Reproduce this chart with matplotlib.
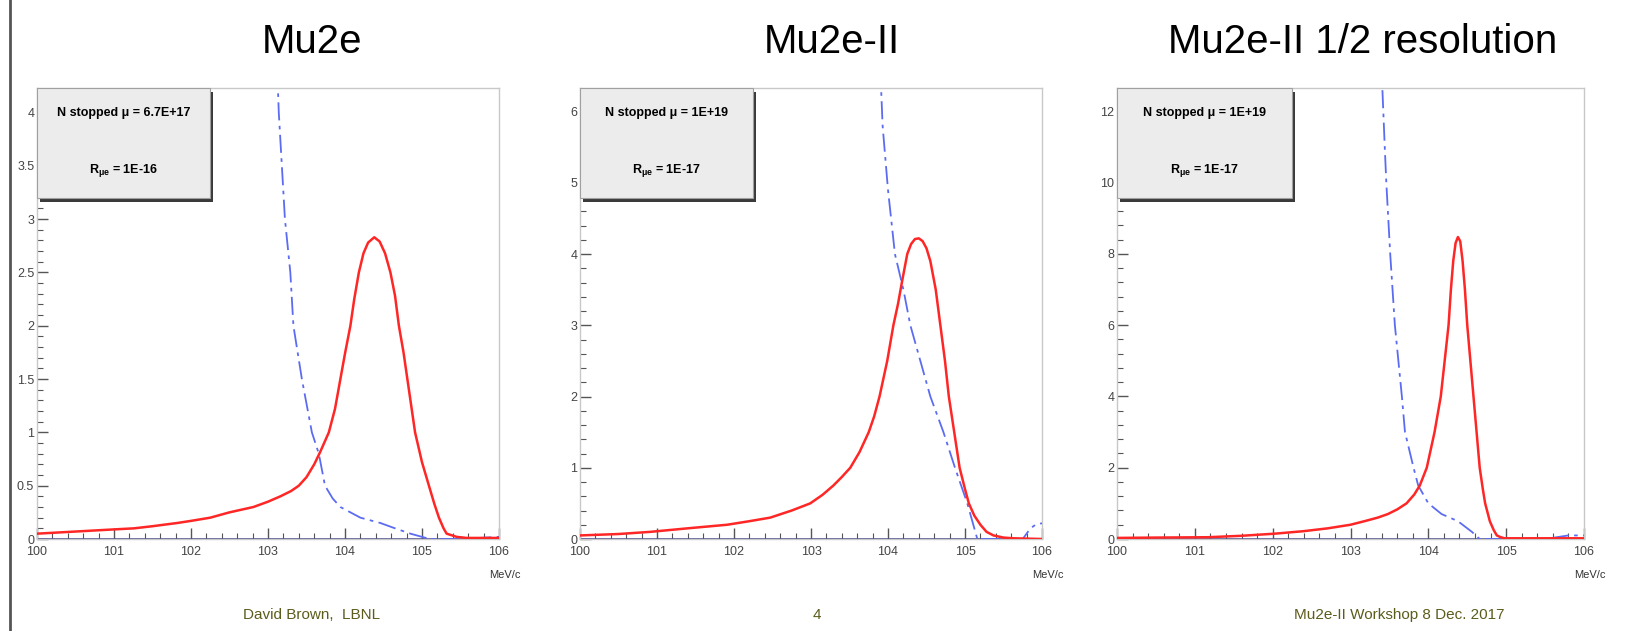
import numpy as np
import matplotlib.pyplot as plt
from matplotlib.patches import Rectangle
from matplotlib.ticker import MultipleLocator, FuncFormatter

plt.rcParams['font.family'] = ['Liberation Sans', 'DejaVu Sans']

# panel titles and legend texts
titles = ["Mu2e", "Mu2e-II", "Mu2e-II 1/2 resolution"]
nstop_txt = ["N stopped μ = 6.7E+17", "N stopped μ = 1E+19", "N stopped μ = 1E+19"]
rmue_txt = ["R$_{\\mathregular{μe}}$ = 1E-16", "R$_{\\mathregular{μe}}$ = 1E-17",
            "R$_{\\mathregular{μe}}$ = 1E-17"]
ymax = [4.23, 6.33, 12.65]
ymajor = [0.5, 1, 2]

# signal (red) curves
sig1_x = [100, 100.5, 101.0, 101.26, 101.5, 101.82, 102.0, 102.25, 102.5, 102.81, 103.0, 103.16, 103.3,
          103.40, 103.5, 103.6, 103.68, 103.79, 103.87, 103.94, 104.0, 104.07, 104.12, 104.18, 104.24,
          104.30, 104.38, 104.45, 104.52, 104.59, 104.65, 104.70, 104.76, 104.81, 104.86, 104.91, 105.0,
          105.09, 105.16, 105.22, 105.28, 105.32, 105.45, 105.58, 106]
sig1_y = [0.05, 0.07, 0.09, 0.1, 0.12, 0.15, 0.17, 0.2, 0.25, 0.3, 0.35, 0.4, 0.45,
          0.5, 0.58, 0.7, 0.82, 1.0, 1.22, 1.5, 1.74, 2.0, 2.25, 2.5, 2.68,
          2.78, 2.83, 2.79, 2.68, 2.5, 2.28, 2.0, 1.75, 1.5, 1.25, 1.0, 0.72,
          0.5, 0.33, 0.2, 0.1, 0.05, 0.02, 0.01, 0.01]

sig2_x = [100, 100.5, 100.91, 101.4, 101.91, 102.2, 102.47, 102.75, 102.99, 103.15, 103.29, 103.4, 103.51,
          103.63, 103.75, 103.82, 103.89, 103.99, 104.07, 104.13, 104.18, 104.25, 104.30, 104.35, 104.40,
          104.45, 104.50, 104.55, 104.62, 104.68, 104.74, 104.79, 104.86, 104.93, 105.0, 105.05, 105.12,
          105.2, 105.28, 105.37, 105.5, 105.63, 106]
sig2_y = [0.05, 0.07, 0.1, 0.15, 0.2, 0.25, 0.3, 0.4, 0.5, 0.62, 0.75, 0.87, 1.0,
          1.22, 1.5, 1.72, 2.0, 2.5, 3.0, 3.3, 3.6, 4.0, 4.14, 4.21, 4.22,
          4.18, 4.08, 3.9, 3.5, 3.0, 2.5, 2.0, 1.5, 1.0, 0.7, 0.5, 0.33,
          0.2, 0.1, 0.05, 0.02, 0.01, 0.0]

sig3_x = [100, 100.5, 101.17, 101.6, 102.03, 102.4, 102.71, 103.0, 103.18, 103.35, 103.48, 103.6, 103.72,
          103.82, 103.89, 103.98, 104.03, 104.08, 104.16, 104.21, 104.26, 104.29, 104.32, 104.35, 104.38,
          104.41, 104.44, 104.47, 104.50, 104.54, 104.58, 104.62, 104.66, 104.70, 104.73, 104.79, 104.84,
          104.88, 104.93, 104.98, 105.5, 106]
sig3_y = [0.03, 0.04, 0.05, 0.09, 0.15, 0.22, 0.3, 0.4, 0.5, 0.6, 0.7, 0.83, 1.0,
          1.25, 1.5, 2.0, 2.5, 3.0, 4.0, 5.0, 6.0, 7.0, 7.8, 8.3, 8.47,
          8.35, 7.8, 7.0, 6.0, 5.0, 4.0, 3.0, 2.0, 1.4, 1.0, 0.5, 0.25,
          0.1, 0.05, 0.02, 0.02, 0.02]

# DIO background (blue) curves
dio1_x = [103.12, 103.14, 103.22, 103.29, 103.33, 103.44, 103.57, 103.66, 103.74, 103.84, 103.94,
          104.2, 104.46, 104.65, 104.85, 105.1, 105.5, 106]
dio1_y = [4.4, 4.0, 3.0, 2.5, 2.0, 1.5, 1.0, 0.8, 0.5, 0.38, 0.3, 0.2, 0.15, 0.1, 0.05, 0.0, 0.0, 0.02]

dio2_x = [103.90, 103.93, 104.0, 104.09, 104.2, 104.29, 104.42, 104.55, 104.72, 104.87, 105.03, 105.16,
          105.5, 105.75, 105.85, 105.93, 106]
dio2_y = [6.6, 5.8, 4.9, 4.0, 3.5, 3.0, 2.5, 2.0, 1.5, 1.0, 0.5, 0.0, 0.0, 0.0, 0.15, 0.21, 0.22]

dio3_x = [103.40, 103.41, 103.44, 103.46, 103.51, 103.57, 103.66, 103.70, 103.81, 103.87, 104.0, 104.17,
          104.38, 104.56, 104.66, 105.5, 105.8, 106]
dio3_y = [13.5, 12.6, 11.0, 10.0, 8.0, 6.0, 4.0, 3.0, 2.0, 1.5, 1.0, 0.7, 0.5, 0.2, 0.0, 0.0, 0.1, 0.1]

sigs = [(sig1_x, sig1_y), (sig2_x, sig2_y), (sig3_x, sig3_y)]
dios = [(dio1_x, dio1_y), (dio2_x, dio2_y), (dio3_x, dio3_y)]

footer = ["David Brown,  LBNL", "4", "Mu2e-II Workshop 8 Dec. 2017"]

W, H = 1631, 631
fig = plt.figure(figsize=(W / 100, H / 100), dpi=100)

# axes boxes in pixels: left, right
boxes = [(37, 499), (580, 1042), (1117, 1584)]
top_px, bot_px = 88, 539
title_cx = [312, 832, 1363]

for i in range(3):
    l, r = boxes[i]
    ax = fig.add_axes([l / W, 1 - bot_px / H, (r - l) / W, (bot_px - top_px) / H])
    ax.set_xlim(100, 106)
    ax.set_ylim(0, ymax[i])
    ax.axhline(0, color="#333380", lw=1.8, zorder=2)
    ax.plot(*dios[i], color="#5b6cf2", lw=1.3, ls=(0, (10, 3, 2, 3)), zorder=3)
    ax.plot(*sigs[i], color="#ff2626", lw=1.8, zorder=4)

    ax.xaxis.set_major_locator(MultipleLocator(1))
    ax.xaxis.set_minor_locator(MultipleLocator(0.2))
    ax.yaxis.set_major_locator(MultipleLocator(ymajor[i]))
    ax.yaxis.set_minor_locator(MultipleLocator(ymajor[i] / 5))
    ax.yaxis.set_major_formatter(FuncFormatter(lambda v, p: "{:g}".format(v)))
    ax.tick_params(which="both", direction="in", colors="#555555", labelsize=9,
                   labelcolor="#444444", top=False, right=False)
    ax.tick_params(which="major", length=8, width=1)
    ax.tick_params(which="minor", length=4, width=0.8)
    ax.tick_params(axis="x", pad=5)
    ax.tick_params(axis="y", pad=2)
    for s in ax.spines.values():
        s.set_color("#c8c8c8")
        s.set_linewidth(1)

    # legend box with shadow
    bw = 0.375
    bb = 0.755
    ax.add_patch(Rectangle((0.006, bb - 0.008), bw, 1 - bb, transform=ax.transAxes,
                           facecolor="#3a3a3a", edgecolor="none", zorder=5, clip_on=False))
    ax.add_patch(Rectangle((0, bb), bw, 1 - bb, transform=ax.transAxes,
                           facecolor="#ececec", edgecolor="#a0a0a0", lw=0.8, zorder=6, clip_on=False))
    ax.text(bw / 2, 0.945, nstop_txt[i], transform=ax.transAxes, ha="center", va="center",
            fontsize=9, fontweight="bold", zorder=7)
    ax.text(bw / 2, 0.818, rmue_txt[i], transform=ax.transAxes, ha="center", va="center",
            fontsize=9, fontweight="bold", zorder=7)

    fig.text(title_cx[i] / W, 1 - 42 / H, titles[i], ha="center", va="center", fontsize=29)
    fig.text((r + 22) / W, 1 - 575 / H, "MeV/c", ha="right", va="center",
             fontsize=8, color="#333333")

# slide border on the left
fig.patches.append(Rectangle((0, 0), 9 / W, 1, transform=fig.transFigure,
                             facecolor="white", edgecolor="none", zorder=10))
fig.lines.append(plt.Line2D([10 / W, 10 / W], [0, 1], transform=fig.transFigure,
                            color="#555555", lw=2, zorder=11))

foot_x = [312, 817, 1399]
for t, fx in zip(footer, foot_x):
    fig.text(fx / W, 1 - 615 / H, t, ha="center", va="center", fontsize=11,
             color="#5c5c1c")

fig.savefig("out.png", dpi=100)
